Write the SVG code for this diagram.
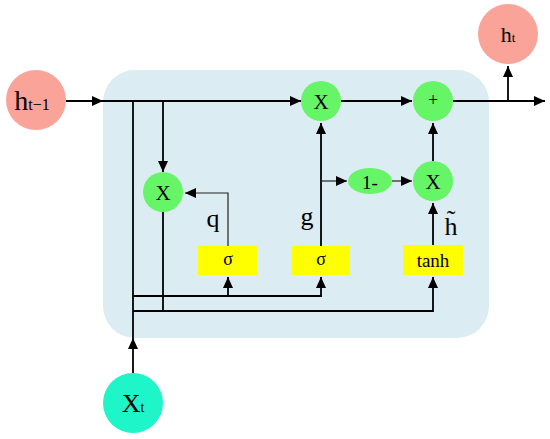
<svg xmlns="http://www.w3.org/2000/svg" width="550" height="439" viewBox="0 0 550 439">
<style>
text{font-family:"Liberation Serif","Times New Roman",serif;fill:#000;text-anchor:middle;dominant-baseline:central}
.op{fill:#66F566}
.io{fill:#F9A399}
.box{fill:#FFFF00}
.c{fill:none;stroke:#000;stroke-width:1.8}
.t{fill:none;stroke:#222;stroke-width:1.2}
.lbl{font-size:26px}
.g{font-size:21px}
.s{font-size:18px}
</style>
<defs>
<marker id="a" markerUnits="userSpaceOnUse" markerWidth="12" markerHeight="10" refX="11" refY="5" orient="auto">
<path d="M0,0 L11,5 L0,10 Z" fill="#000"/>
</marker>
</defs>
<rect x="103" y="70" width="386" height="268" rx="32" fill="#DBEDF3"/>
<g id="connectors">
<path class="c" d="M66,101 H103" marker-end="url(#a)"/>
<path class="c" d="M103,101 H301" marker-end="url(#a)"/>
<path class="c" d="M341,101 H412" marker-end="url(#a)"/>
<path class="c" d="M453,101 H545" marker-end="url(#a)"/>
<path class="c" d="M508,101 V66" marker-end="url(#a)"/>
<path class="c" d="M163,101 V172" marker-end="url(#a)"/>
<path class="c" d="M133,373 V338" marker-end="url(#a)"/>
<path class="c" d="M133,338 V101"/>
<path class="c" d="M133,296 H321 V277" marker-end="url(#a)"/>
<path class="c" d="M228,296 V277" marker-end="url(#a)"/>
<path class="c" d="M133,311 H433 V277" marker-end="url(#a)"/>
<path class="c" d="M163,209 V311"/>
<path class="t" d="M228,246 V193 H185" marker-end="url(#a)"/>
<path class="c" d="M321,246 V123" marker-end="url(#a)"/>
<path class="t" d="M321,181 H347" marker-end="url(#a)"/>
<path class="t" d="M392,181 H412" marker-end="url(#a)"/>
<path class="c" d="M433,245 V203" marker-end="url(#a)"/>
<path class="c" d="M433,161 V123" marker-end="url(#a)"/>
</g>
<g id="h_prev"><circle class="io" cx="36" cy="100" r="30"/><text x="32" y="100" font-size="28">h<tspan font-size="16" dy="4">t−1</tspan></text></g>
<g id="h_t"><circle class="io" cx="508" cy="34" r="30"/><text x="508" y="34" font-size="22">h<tspan font-size="13" dy="3">t</tspan></text></g>
<g id="x_t"><circle fill="#1EF5C8" cx="133" cy="403" r="30"/><text x="133" y="403" font-size="26">X<tspan font-size="14" dy="4">t</tspan></text></g>
<g id="mul1"><circle class="op" cx="163" cy="192" r="20"/><text class="g" x="163" y="193">X</text></g>
<g id="mul2"><circle class="op" cx="321" cy="101" r="20"/><text class="g" x="321" y="102">X</text></g>
<g id="plus"><circle class="op" cx="433" cy="101" r="20"/><text class="s" x="433" y="100">+</text></g>
<g id="mul3"><circle class="op" cx="433" cy="181" r="20"/><text class="g" x="433" y="182">X</text></g>
<g id="one_minus"><ellipse class="op" cx="370" cy="181" rx="22" ry="13"/><text x="370" y="182" font-size="19">1-</text></g>
<g id="sigma_q"><rect class="box" x="198" y="246" width="59" height="29"/><text class="s" x="228" y="259">σ</text></g>
<g id="sigma_g"><rect class="box" x="292" y="246" width="58" height="29"/><text class="s" x="321" y="259">σ</text></g>
<g id="tanh"><rect class="box" x="403" y="245" width="60" height="30"/><text x="433" y="260" font-size="19">tanh</text></g>
<text class="lbl" x="213" y="218">q</text>
<text class="lbl" x="307" y="216">g</text>
<text class="lbl" x="451" y="226">h̃</text>
</svg>
